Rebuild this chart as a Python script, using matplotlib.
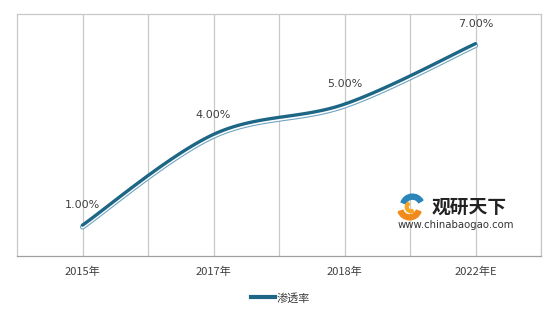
import matplotlib
matplotlib.use('Agg')
import matplotlib.pyplot as plt
import matplotlib.transforms as mtransforms
from matplotlib.patches import Wedge
import numpy as np

plt.rcParams['font.family'] = ['Noto Sans CJK SC', 'DejaVu Sans']

# 数据
categories = ["2015年", "2017年", "2018年", "2022年E"]
values = [1.0, 4.0, 5.0, 7.0]
value_labels = ["1.00%", "4.00%", "5.00%", "7.00%"]
series_name = "渗透率"

DARK = '#1d6686'
LIGHT = '#6fa3c2'
GRID = '#c8c8c8'
TEXT = '#404040'


def smooth_curve(x, y, n=40):
    # Excel 风格平滑线 (Catmull-Rom -> Bezier)
    pts = np.column_stack([x, y]).astype(float)
    ext = np.vstack([pts[0], pts, pts[-1]])
    out = []
    for i in range(len(pts) - 1):
        p0, p1, p2, p3 = ext[i], ext[i + 1], ext[i + 2], ext[i + 3]
        b1 = p1 + (p2 - p0) / 6
        b2 = p2 - (p3 - p1) / 6
        t = np.linspace(0, 1, n)[:, None]
        seg = (1 - t) ** 3 * p1 + 3 * (1 - t) ** 2 * t * b1 + 3 * (1 - t) * t ** 2 * b2 + t ** 3 * p2
        out.append(seg if i == 0 else seg[1:])
    seg = np.vstack(out)
    return seg[:, 0], seg[:, 1]


fig = plt.figure(figsize=(5.52, 3.17), dpi=100)
ax = fig.add_axes([17 / 552, 1 - 256 / 317, 524 / 552, 242 / 317])

x = np.arange(len(categories))
sx, sy = smooth_curve(x, values)

down = mtransforms.offset_copy(ax.transData, fig=fig, x=0, y=-1.2, units='dots')
up = mtransforms.offset_copy(ax.transData, fig=fig, x=0, y=0.6, units='dots')
ax.plot(sx, sy, color=LIGHT, lw=3.8, solid_capstyle='round', transform=down, zorder=3)
ax.plot(sx, sy, color='white', lw=2.2, solid_capstyle='round', transform=down, zorder=4)
ax.plot(sx, sy, color=DARK, lw=2.4, solid_capstyle='round', transform=up, zorder=5)

for xi, v, lab in zip(x, values, value_labels):
    ax.annotate(lab, (xi, v), xytext=(0, 11), textcoords='offset points',
                ha='center', va='bottom', fontsize=8, color=TEXT, family='DejaVu Sans', zorder=6)

ax.set_xlim(-0.5, len(categories) - 0.5)
ax.set_ylim(0, 8)
for gx in np.arange(0, len(categories) - 0.5 + 0.01, 0.5):
    ax.axvline(gx, color=GRID, lw=0.9, zorder=1)
ax.set_xticks(x)
ax.set_xticklabels(categories, fontsize=8, color=TEXT)
ax.tick_params(axis='x', length=0, pad=8)
ax.set_yticks([])
for s in ax.spines.values():
    s.set_color(GRID)
    s.set_linewidth(0.9)
ax.spines['bottom'].set_color('#a0a0a0')

# 图例
leg = fig.legend([plt.Line2D([], [], color=DARK, lw=3)], [series_name], loc='center',
                 bbox_to_anchor=(280 / 552, 1 - 298 / 317), frameon=False, fontsize=8,
                 handlelength=2.2, handletextpad=0.1)
for t in leg.get_texts():
    t.set_color(TEXT)

# 水印
fig.text(432 / 552, 1 - 207 / 317, "观研天下", fontsize=13.5, fontweight='bold', color='#222222', va='center')
fig.text(398 / 552, 1 - 225 / 317, "www.chinabaogao.com", fontsize=7.3, color='#333333', va='center', family='DejaVu Sans')
lx, ly = 411 / 552, 1 - 207 / 317
logo = fig.add_axes([lx - 0.03, ly - 0.045, 0.06, 0.09])
logo.set_xlim(-1, 1)
logo.set_ylim(-1, 1)
logo.set_aspect('equal')
logo.axis('off')
logo.add_patch(Wedge((0.1, 0.05), 0.85, 30, 160, width=0.35, color='#2a86b8'))
logo.add_patch(Wedge((-0.1, -0.05), 0.85, 200, 340, width=0.35, color='#f08a1c'))
logo.add_patch(Wedge((0.0, 0.0), 0.4, 120, 300, width=0.2, color='#f5a623'))

fig.savefig('out.png', dpi=100)
